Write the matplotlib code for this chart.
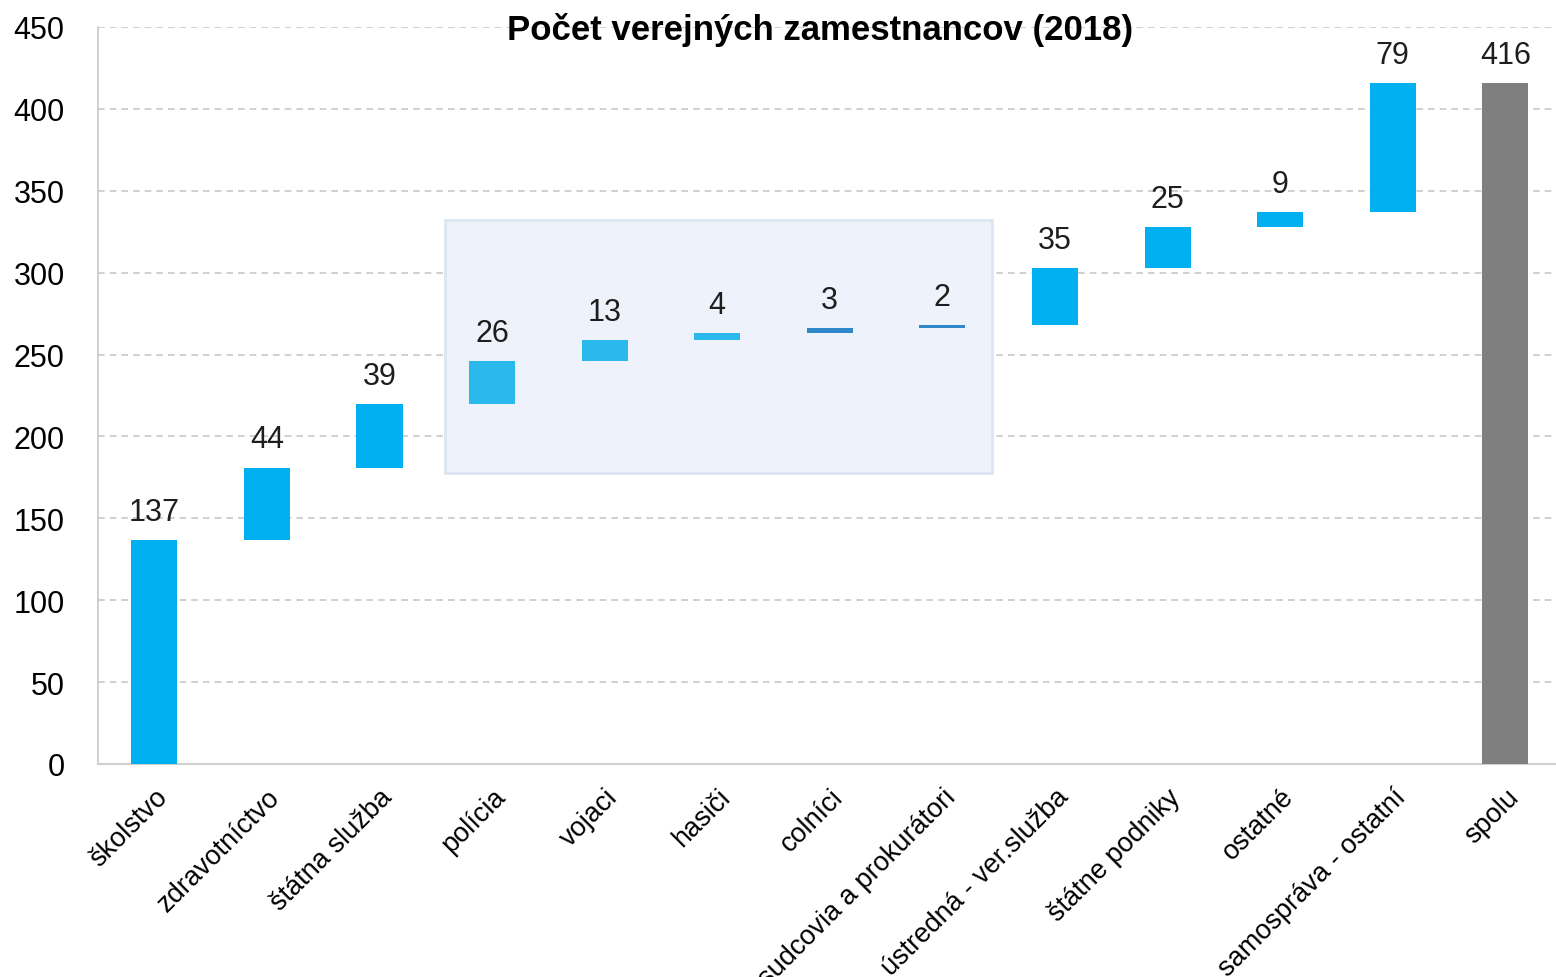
import numpy as np
import matplotlib.pyplot as plt
from matplotlib.patches import Rectangle

plt.rcParams['font.family'] = ['Liberation Sans Narrow', 'Liberation Sans', 'DejaVu Sans']

categories = ['školstvo', 'zdravotníctvo', 'štátna služba', 'polícia', 'vojaci', 'hasiči',
              'colníci', 'sudcovia a prokurátori', 'ústredná - ver.služba', 'štátne podniky',
              'ostatné', 'samospráva - ostatní', 'spolu']
values = [137, 44, 39, 26, 13, 4, 3, 2, 35, 25, 9, 79]
total = 416
yticks = [0, 50, 100, 150, 200, 250, 300, 350, 400, 450]

colors = ['#00B0F0', '#00B0F0', '#00B0F0', '#2BB8EC', '#2BB8EC', '#2BB8EC',
          '#2E88C9', '#2E88C9', '#00B0F0', '#00B0F0', '#00B0F0', '#00B0F0', '#7F7F7F']

bottoms = list(np.concatenate([[0], np.cumsum(values)[:-1]]))
heights = values + [total]
bottoms = bottoms + [0]

fig = plt.figure(figsize=(15.56, 9.78), dpi=100)
ax = fig.add_axes([0.063, 0.2178, 0.937, 0.7536])

x = np.arange(len(categories))

# highlight box
ax.add_patch(Rectangle((2.58, 177.5), 4.86, 154.5, facecolor='#EEF3FB',
                       edgecolor='#DCE6F2', linewidth=2, zorder=1))

ax.bar(x, heights, bottom=bottoms, width=0.41, color=colors, zorder=3)

for xi, b, h in zip(x, bottoms, heights):
    ax.text(xi, b + h + 8, str(h), ha='center', va='bottom', fontsize=22, color='#1E1E1E', zorder=4)

ax.set_xlim(-0.5, 12.45)
ax.set_ylim(0, 450)
ax.set_yticks(yticks)
ax.yaxis.grid(True, linestyle=(0, (4, 3)), color='#C8C8C8', linewidth=1.2, zorder=0)
ax.set_axisbelow(True)

ax.set_xticks(x)
ax.set_xticklabels(categories, rotation=45, ha='right', rotation_mode='anchor', fontsize=19.5)
ax.tick_params(axis='x', length=0, pad=14)
ax.tick_params(axis='y', length=0, pad=24, labelsize=22)

for s in ['top', 'right']:
    ax.spines[s].set_visible(False)
ax.spines['left'].set_color('#C8C8C8')
ax.spines['bottom'].set_color('#D0D0D0')
ax.spines['left'].set_linewidth(1.2)
ax.spines['bottom'].set_linewidth(1.5)

fig.text(0.527, 0.969, 'Počet verejných zamestnancov (2018)', ha='center', va='center',
         fontsize=25, fontweight='bold')

fig.savefig('out.png', dpi=100)
